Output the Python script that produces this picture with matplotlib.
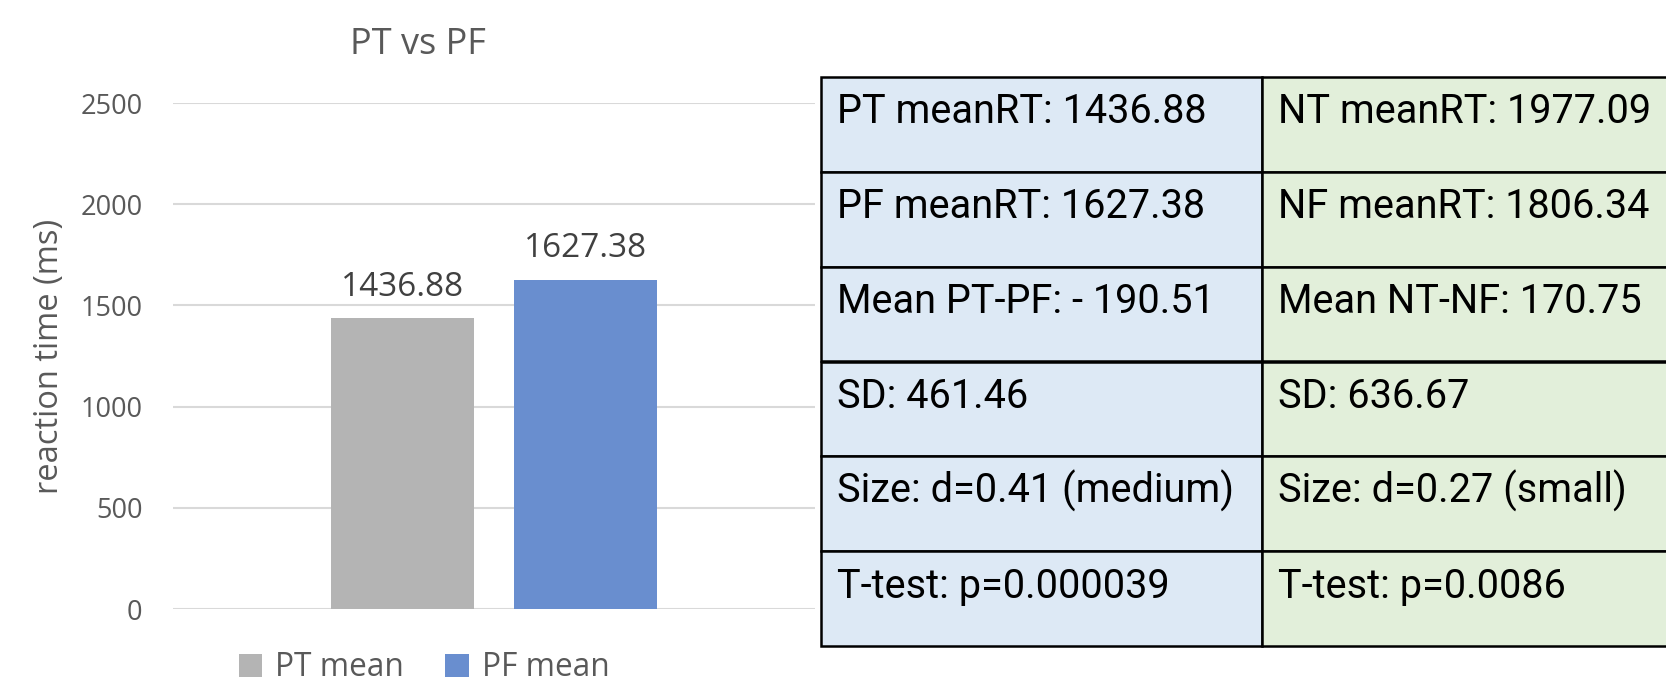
import numpy as np
import matplotlib
matplotlib.use("Agg")
import matplotlib.pyplot as plt
from matplotlib.patches import Rectangle

# data
series = ["PT mean", "PF mean"]
means = [1436.88, 1627.38]
bar_colors = ["#B4B4B4", "#698ECF"]
yticks = [0, 500, 1000, 1500, 2000, 2500]

# summary table (left = positive block, right = negative block)
left_col = ["PT meanRT: 1436.88", "PF meanRT: 1627.38", "Mean PT-PF: - 190.51",
            "SD: 461.46", "Size: d=0.41 (medium)", "T-test: p=0.000039"]
right_col = ["NT meanRT: 1977.09", "NF meanRT: 1806.34", "Mean NT-NF: 170.75",
             "SD: 636.67", "Size: d=0.27 (small)", "T-test: p=0.0086"]
col_colors = ["#DDE9F5", "#E2EFDA"]

W, H = 1666, 684
grey = "#595959"
chart_font = "Open Sans"

fig = plt.figure(figsize=(W / 100, H / 100), dpi=100)

# bar chart
ax = fig.add_axes([173 / W, 1 - 609 / H, (815 - 173) / W, (609 - 103) / H])
bar_w = 0.223
step = 0.284
xs = (np.arange(len(series)) - (len(series) - 1) / 2) * step
bars = ax.bar(xs, means, width=bar_w, color=bar_colors, label=series, zorder=2)
for x, v in zip(xs, means):
    ax.annotate("%.2f" % v, (x, v), xytext=(0, 16), textcoords="offset points",
                ha="center", va="baseline", fontsize=24, color="#404040",
                family=chart_font)

ax.set_xlim(-0.5, 0.5)
ax.set_ylim(0, 2500)
ax.set_yticks(yticks)
ax.set_xticks([])
ax.grid(axis="y", color="#D9D9D9", lw=1.5, zorder=0)
for s in ax.spines.values():
    s.set_visible(False)
ax.tick_params(axis="y", length=0, pad=22, labelsize=19.5, labelcolor=grey)
for lbl in ax.get_yticklabels():
    lbl.set_family(chart_font)

fig.text(50 / W, 1 - 356 / H, "reaction time (ms)", rotation=90, ha="center",
         va="center", fontsize=23.5, color=grey, family=chart_font)
fig.text(418 / W, 1 - 45 / H, "PT vs PF", ha="center", va="center",
         fontsize=26, color=grey, family=chart_font)

fig.legend(bars, series, loc="center", bbox_to_anchor=(424 / W, 1 - 668 / H),
           ncol=2, frameon=False, handlelength=0.75, handleheight=0.75,
           handletextpad=0.4, columnspacing=1.3, borderpad=0.1,
           prop={"family": chart_font, "size": 22.8}, labelcolor=grey)

# table
col_w = 441
tab = fig.add_axes([821 / W, 1 - 646 / H, 2 * col_w / W, (646 - 77) / H])
tab.set_xlim(0, 2)
tab.set_ylim(len(left_col), 0)
tab.axis("off")
for c, texts in enumerate([left_col, right_col]):
    for r, t in enumerate(texts):
        tab.add_patch(Rectangle((c, r), 1, 1, facecolor=col_colors[c],
                                edgecolor="black", lw=1.8, clip_on=False))
        tab.text(c + 16 / col_w, r + 0.49, t, ha="left", va="baseline",
                 fontsize=28.5, color="black", family="Roboto")

fig.savefig("out.png", dpi=100)
